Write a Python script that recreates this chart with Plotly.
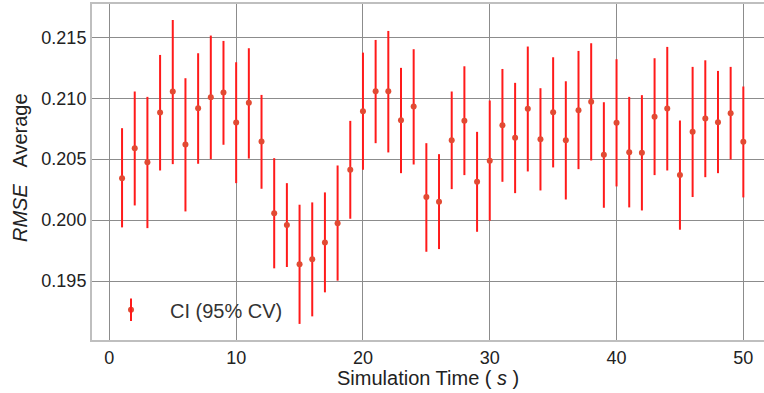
import plotly.graph_objects as go

time_s = list(range(1, 51))
rmse_avg = [0.20344, 0.2059, 0.20475, 0.20883, 0.21055, 0.2062, 0.20918, 0.21008, 0.21046, 0.2080,
            0.20962, 0.20645, 0.20057, 0.19959, 0.19637, 0.19678, 0.19817, 0.19975, 0.20413, 0.20893,
            0.21057, 0.21057, 0.2082, 0.20932, 0.20189, 0.2015, 0.20656, 0.20814, 0.20314, 0.20486,
            0.20779, 0.20675, 0.20913, 0.20664, 0.20885, 0.20656, 0.20902, 0.2097, 0.20536, 0.20798,
            0.20557, 0.20552, 0.20847, 0.20916, 0.20369, 0.20724, 0.20833, 0.20803, 0.20877, 0.20642]
ci_upper = [0.20754, 0.21055, 0.21011, 0.21355, 0.21642, 0.21164, 0.21369, 0.21514, 0.2147, 0.21295,
            0.2141, 0.21027, 0.20508, 0.20303, 0.20126, 0.20145, 0.20227, 0.20448, 0.20814, 0.21374,
            0.21478, 0.21552, 0.21249, 0.21402, 0.20631, 0.20541, 0.21055, 0.21262, 0.20724, 0.20981,
            0.2124, 0.21126, 0.21424, 0.21082, 0.21336, 0.21139, 0.21388, 0.21451, 0.20967, 0.2132,
            0.21011, 0.21025, 0.21328, 0.21421, 0.20817, 0.21257, 0.21311, 0.21224, 0.21257, 0.21096]
ci_lower = [0.1994, 0.2012, 0.19934, 0.20407, 0.20459, 0.20071, 0.20462, 0.2050, 0.20618, 0.20303,
            0.20505, 0.20257, 0.19604, 0.19615, 0.19148, 0.1921, 0.19407, 0.19503, 0.20011, 0.20413,
            0.20631, 0.20555, 0.20385, 0.20456, 0.1974, 0.19762, 0.20254, 0.20369, 0.19904, 0.19995,
            0.20314, 0.20221, 0.20399, 0.20243, 0.20432, 0.20169, 0.20418, 0.20489, 0.20101, 0.20276,
            0.20104, 0.20079, 0.20369, 0.20407, 0.19921, 0.20189, 0.20352, 0.20385, 0.20497, 0.20186]
y_ticks = [0.195, 0.200, 0.205, 0.210, 0.215]
x_ticks = [0, 10, 20, 30, 40, 50]
legend_label = "CI (95% CV)"

err_plus = [u - m for u, m in zip(ci_upper, rmse_avg)]
err_minus = [m - l for m, l in zip(rmse_avg, ci_lower)]

font_family = "Liberation Sans, Arial, sans-serif"
txt = "#222222"
bar_red = "#ff1a1a"
dot_red = "#E24A33"

fig = go.Figure()
fig.add_trace(go.Scatter(
    x=time_s, y=rmse_avg, mode="markers", name=legend_label,
    marker=dict(color=dot_red, size=6),
    error_y=dict(type="data", symmetric=False, array=err_plus, arrayminus=err_minus,
                 color=bar_red, thickness=2, width=0),
    showlegend=True, legend="legend",
))
# legend-only companion so the legend symbol shows the error bar stroke
fig.add_trace(go.Scatter(
    x=[None], y=[None], mode="markers", name=legend_label,
    marker=dict(symbol="line-ns", size=22, line=dict(color=bar_red, width=2)),
    showlegend=True, legend="legend2", hoverinfo="skip",
))

leg_common = dict(x=0.0, y=0.09, xanchor="left", yanchor="middle",
                  bgcolor="rgba(0,0,0,0)", itemwidth=68)

fig.update_layout(
    width=764, height=393,
    margin=dict(l=92, r=0, t=4, b=53, autoexpand=False),
    paper_bgcolor="white", plot_bgcolor="white",
    font=dict(family=font_family, size=18, color=txt),
    showlegend=True,
    legend=dict(**leg_common, font=dict(size=20, color="#333333", family=font_family)),
    legend2=dict(**leg_common, font=dict(size=20, color="rgba(0,0,0,0)", family=font_family)),
    xaxis=dict(
        range=[-1.37, 51.63], tickvals=x_ticks, ticktext=[str(v) for v in x_ticks],
        showgrid=True, gridcolor="#8c8c8c", gridwidth=1, zeroline=False,
        showline=True, linecolor="#bfbfbf", linewidth=2, mirror=True,
        ticks="", ticklen=0, tickfont=dict(size=18, color=txt), automargin=False,
    ),
    yaxis=dict(
        range=[0.19016, 0.21773], tickvals=y_ticks, ticktext=[f"{v:.3f}" for v in y_ticks],
        showgrid=True, gridcolor="#8c8c8c", gridwidth=1, zeroline=False,
        showline=True, linecolor="#bfbfbf", linewidth=2, mirror=True,
        ticks="", tickfont=dict(size=18, color=txt), automargin=False,
    ),
    annotations=[
        dict(text="Simulation Time (&nbsp;<i>s</i>&nbsp;)", xref="paper", yref="paper",
             x=0.5, y=-0.074, xanchor="center", yanchor="top", showarrow=False,
             font=dict(size=20, color=txt)),
        dict(text="<i>RMSE</i>&nbsp;&nbsp;&nbsp;Average", xref="paper", yref="paper",
             x=-0.107, y=0.512, xanchor="center", yanchor="middle", showarrow=False,
             textangle=-90, font=dict(size=20, color=txt)),
    ],
)

fig.write_html("out.html", config={"displayModeBar": False},
               post_script="document.body.style.margin='0';")
